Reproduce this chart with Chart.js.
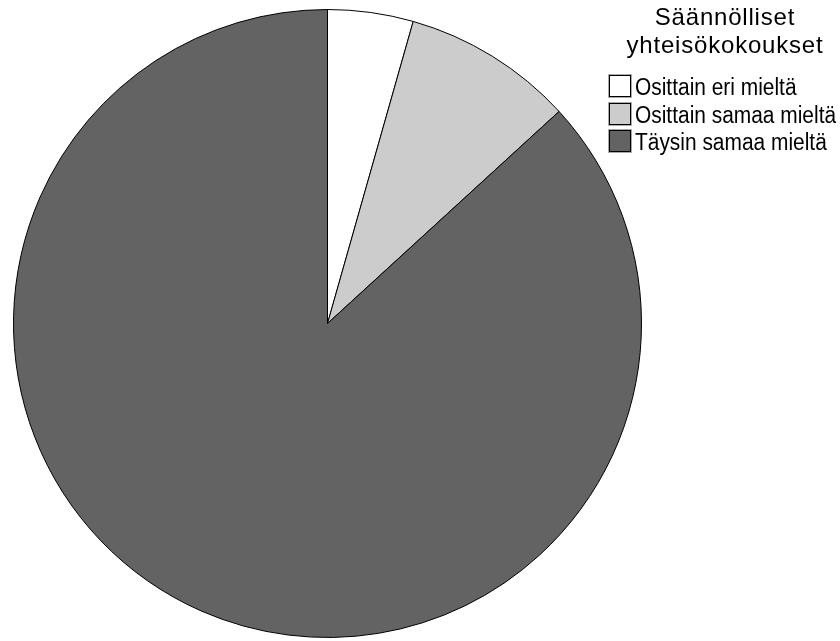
<!DOCTYPE html>
<html>
<head>
<meta charset="utf-8">
<script src="https://cdn.jsdelivr.net/npm/chart.js@4/dist/chart.umd.min.js"></script>
<style>
    html, body { margin: 0; padding: 0; background: #fff; }
    #wrap { position: relative; width: 840px; height: 641px; }
    #legend {
        position: absolute;
        left: 608px;
        top: 3px;
        width: 232px;
        font-family: "Liberation Sans", Arial, sans-serif;
        color: #000;
    }
    #legend .title {
        position: absolute;
        left: 0;
        width: 234px;
        text-align: center;
        font-size: 24px;
        letter-spacing: 0.8px;
        line-height: 28px;
        top: 0;
    }
    #legend .item {
        position: absolute;
        left: 0;
        height: 23px;
        white-space: nowrap;
        font-size: 23.5px;
        line-height: 23px;
    }
    #legend .box {
        position: absolute;
        left: 1px;
        top: -1px;
        width: 20px;
        height: 20px;
        border: 1px solid #000;
        box-shadow: 0 0 0 1px #aaa;
    }
    #legend .label {
        position: absolute;
        left: 27px;
        top: 0;
        transform: scaleX(0.89);
        transform-origin: left center;
    }
</style>
</head>
<body>
<div id="wrap">
    <canvas id="pie" width="840" height="641"></canvas>
    <div id="legend"></div>
</div>
<script>
// Data
const legendTitle = ["Säännölliset", "yhteisökokoukset"];
const categories = ["Osittain eri mieltä", "Osittain samaa mieltä", "Täysin samaa mieltä"];
const shares = [4.4, 8.8, 86.8];
const sliceColors = ["#ffffff", "#cccccc", "#636363"];

// Pie
new Chart(document.getElementById("pie").getContext("2d"), {
    type: "pie",
    data: {
        labels: categories,
        datasets: [
            {
                data: shares,
                backgroundColor: sliceColors,
                borderColor: "#000000",
                borderWidth: 1,
                hoverOffset: 0,
            },
        ],
    },
    options: {
        responsive: false,
        animation: false,
        events: [],
        layout: {
            padding: { left: 12, top: 9, right: 197, bottom: 3 },
        },
        plugins: {
            legend: { display: false },
            tooltip: { enabled: false },
        },
    },
});

// Legend drawn next to the pie
const legend = document.getElementById("legend");
const title = document.createElement("div");
title.className = "title";
title.innerHTML = legendTitle.join("<br>");
legend.appendChild(title);

categories.forEach((name, i) => {
    const item = document.createElement("div");
    item.className = "item";
    item.style.top = Math.round(73 + i * 27.5) + "px";
    item.innerHTML = `<span class="box" style="background:${sliceColors[i]}"></span><span class="label">${name}</span>`;
    legend.appendChild(item);
});
</script>
</body>
</html>
